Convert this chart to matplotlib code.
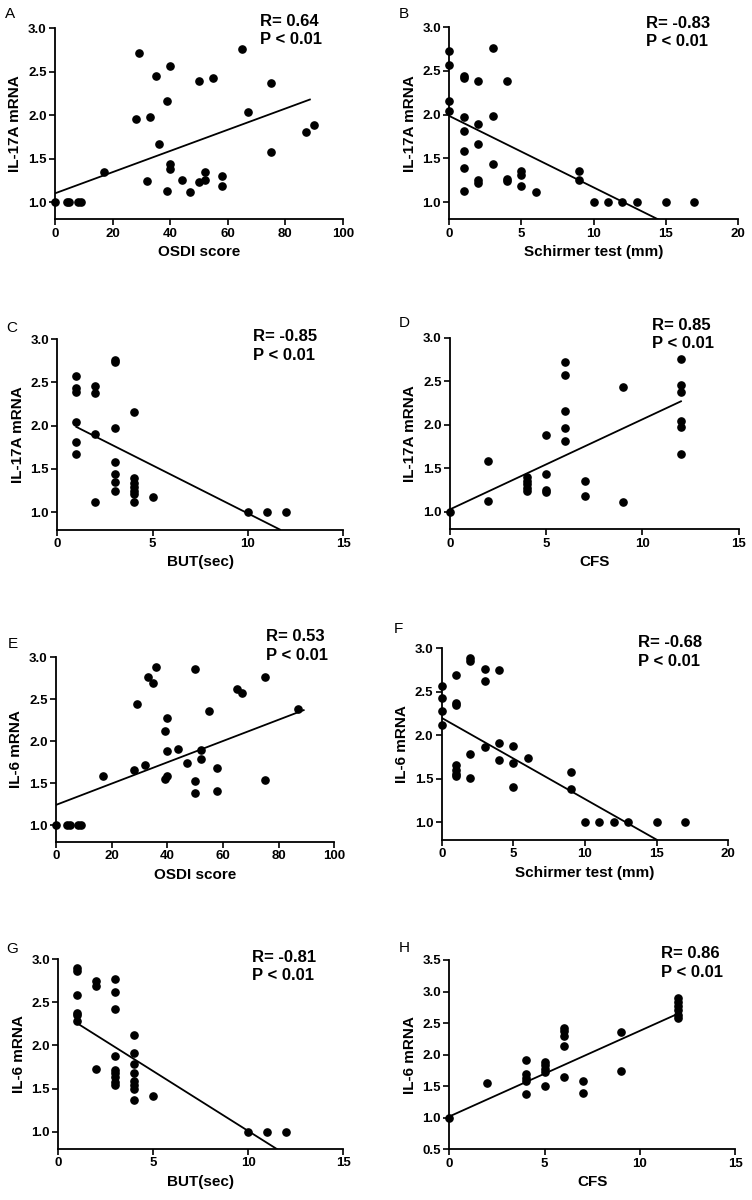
import matplotlib
matplotlib.use("Agg")
import matplotlib.pyplot as plt
import numpy as np

plt.rcParams['font.family'] = ['Liberation Sans', 'DejaVu Sans']

W, H = 752, 1200

# ---- data ----
# A: IL-17A vs OSDI
a_x = [0, 4, 5, 8, 9, 17, 29, 28, 33, 35, 40, 39, 36, 32, 40, 40, 39, 44, 47, 50,
       55, 50, 52, 52, 58, 58, 65, 67, 75, 75, 87, 90]
a_y = [1, 1, 1, 1, 1, 1.35, 2.72, 1.96, 1.98, 2.45, 2.57, 2.16, 1.67, 1.24, 1.44, 1.38,
       1.13, 1.25, 1.12, 2.39, 2.43, 1.23, 1.25, 1.35, 1.30, 1.18, 2.76, 2.04, 2.37, 1.58,
       1.81, 1.89]
a_fit_x = [0, 88.5]
a_fit_y = [1.10, 2.18]

# B: IL-17A vs Schirmer
b_x = [0, 0, 0, 0, 1, 1, 1, 1, 1, 1, 1, 2, 2, 2, 2, 2, 3, 3, 3, 4, 4, 4, 5, 5, 5, 6,
       9, 9, 10, 11, 12, 13, 15, 17]
b_y = [2.73, 2.57, 2.16, 2.04, 2.44, 2.42, 1.97, 1.81, 1.58, 1.39, 1.13, 2.39, 1.89,
       1.66, 1.25, 1.22, 2.76, 1.98, 1.44, 2.38, 1.26, 1.24, 1.35, 1.31, 1.18, 1.11,
       1.35, 1.25, 1, 1, 1, 1, 1, 1]
b_fit_x = [0, 14.5]
b_fit_y = [1.985, 0.80]

# C: IL-17A vs BUT
c_x = [1, 1, 1, 1, 1, 1, 2, 2, 2, 2, 3, 3, 3, 3, 3, 3, 3, 4, 4, 4, 4, 4, 4, 4, 5,
       10, 11, 12]
c_y = [2.57, 2.43, 2.39, 2.04, 1.81, 1.67, 2.46, 2.38, 1.90, 1.12, 2.76, 2.73, 1.97,
       1.58, 1.44, 1.35, 1.24, 2.16, 1.39, 1.34, 1.29, 1.25, 1.21, 1.12, 1.18, 1, 1, 1]
c_fit_x = [1, 11.68]
c_fit_y = [1.985, 0.80]

# D: IL-17A vs CFS
d_x = [0, 2, 2, 4, 4, 4, 4, 4, 5, 5, 5, 5, 6, 6, 6, 6, 6, 7, 7, 9, 9,
       12, 12, 12, 12, 12, 12]
d_y = [1.0, 1.58, 1.13, 1.40, 1.36, 1.32, 1.28, 1.24, 1.88, 1.44, 1.25, 1.23,
       2.72, 2.57, 2.16, 1.96, 1.81, 1.35, 1.18, 2.43, 1.11,
       2.76, 2.46, 2.38, 2.04, 1.97, 1.67]
d_fit_x = [0, 12]
d_fit_y = [1.03, 2.27]

# E: IL-6 vs OSDI
e_x = [0, 4, 5, 8, 9, 17, 28, 29, 32, 33, 35, 36, 39, 39, 40, 40, 40, 44, 47, 50,
       50, 50, 52, 52, 55, 58, 58, 65, 67, 75, 75, 87]
e_y = [1, 1, 1, 1, 1, 1.58, 1.66, 2.44, 1.72, 2.77, 2.69, 2.89, 2.12, 1.55, 2.28, 1.88,
       1.59, 1.91, 1.74, 2.86, 1.52, 1.38, 1.89, 1.79, 2.36, 1.68, 1.41, 2.62, 2.58, 2.76,
       1.54, 2.38]
e_fit_x = [0, 89]
e_fit_y = [1.24, 2.37]

# F: IL-6 vs Schirmer
f_x = [0, 0, 0, 0, 1, 1, 1, 1, 1, 1, 1, 2, 2, 2, 2, 3, 3, 3, 4, 4, 4, 5, 5, 5, 6,
       9, 9, 10, 11, 12, 13, 15, 17]
f_y = [2.57, 2.43, 2.28, 2.12, 2.69, 2.37, 2.35, 1.66, 1.60, 1.56, 1.53, 2.89, 2.85,
       1.79, 1.51, 2.76, 2.62, 1.87, 2.75, 1.91, 1.72, 1.88, 1.68, 1.41, 1.74,
       1.58, 1.38, 1, 1, 1, 1, 1, 1]
f_fit_x = [0, 15]
f_fit_y = [2.20, 0.80]

# G: IL-6 vs BUT
g_x = [1, 1, 1, 1, 1, 1, 2, 2, 2, 3, 3, 3, 3, 3, 3, 3, 3, 3, 4, 4, 4, 4, 4, 4, 4, 4,
       5, 10, 11, 12]
g_y = [2.89, 2.86, 2.58, 2.38, 2.35, 2.28, 2.75, 2.69, 1.73, 2.77, 2.62, 2.42, 1.88,
       1.72, 1.68, 1.63, 1.58, 1.54, 2.12, 1.91, 1.78, 1.68, 1.59, 1.54, 1.50, 1.37,
       1.41, 1, 1, 1]
g_fit_x = [1, 11.5]
g_fit_y = [2.255, 0.80]

# H: IL-6 vs CFS
h_x = [0, 2, 4, 4, 4, 4, 4, 5, 5, 5, 5, 5, 6, 6, 6, 6, 6, 7, 7, 9, 9,
       12, 12, 12, 12, 12, 12]
h_y = [1.0, 1.55, 1.91, 1.69, 1.63, 1.58, 1.38, 1.89, 1.83, 1.77, 1.72, 1.51,
       2.43, 2.38, 2.30, 2.13, 1.65, 1.58, 1.40, 2.36, 1.74,
       2.89, 2.84, 2.77, 2.70, 2.63, 2.58]
h_fit_x = [0, 12]
h_fit_y = [1.02, 2.65]

r_values = ["0.64", "-0.83", "-0.85", "0.85", "0.53", "-0.68", "-0.81", "0.86"]
x_labels = ["OSDI score", "Schirmer test (mm)", "BUT(sec)", "CFS",
            "OSDI score", "Schirmer test (mm)", "BUT(sec)", "CFS"]
y_labels = ["IL-17A mRNA"] * 4 + ["IL-6 mRNA"] * 4
letters = list("ABCDEFGH")

# ---- layout (pixels): left, right, y-top, y-bottom, ylim, xmax, xstep ----
boxes = [
    (55, 343, 28.3, 219.4, (0.8, 3.0), 100, 20),
    (449.3, 737.7, 27.3, 219.5, (0.8, 3.0), 20, 5),
    (57.3, 343.3, 339, 529.6, (0.8, 3.0), 15, 5),
    (450, 738.7, 337.7, 529.4, (0.8, 3.0), 15, 5),
    (56, 334.3, 657.3, 841.8, (0.8, 3.0), 100, 20),
    (441.7, 728.3, 648.3, 839.7, (0.8, 3.0), 20, 5),
    (58.3, 343.3, 959, 1149, (0.8, 3.0), 15, 5),
    (449.3, 735.3, 960, 1149.3, (0.5, 3.5), 15, 5),
]
# letter (x, baseline), R text (x, baseline)
letter_pos = [(5, 18.3), (398.7, 18.3), (6.7, 331.7), (398.7, 327.3),
              (7.3, 648.3), (393.3, 633.3), (6, 953.3), (398.7, 951.7)]
stat_pos = [(260, 26), (646, 28), (253, 341), (652, 330),
            (266, 641), (637.7, 647), (252.3, 962), (661, 958.5)]

xs = [a_x, b_x, c_x, d_x, e_x, f_x, g_x, h_x]
ys = [a_y, b_y, c_y, d_y, e_y, f_y, g_y, h_y]
fxs = [a_fit_x, b_fit_x, c_fit_x, d_fit_x, e_fit_x, f_fit_x, g_fit_x, h_fit_x]
fys = [a_fit_y, b_fit_y, c_fit_y, d_fit_y, e_fit_y, f_fit_y, g_fit_y, h_fit_y]

fig = plt.figure(figsize=(W / 100, H / 100), dpi=100)

for i in range(8):
    l, r, t, b, ylim, xmax, xstep = boxes[i]
    ax = fig.add_axes([l / W, 1 - b / H, (r - l) / W, (b - t) / H])
    ax.plot(fxs[i], fys[i], color='black', lw=1.3, zorder=2)
    ax.plot(xs[i], ys[i], 'o', color='black', ms=5.2, clip_on=False, zorder=4)
    ax.set_xlim(0, xmax)
    ax.set_ylim(*ylim)
    ax.set_xticks(np.arange(0, xmax + 0.1, xstep))
    ax.set_yticks(np.arange(ylim[0] if ylim[0] == 0.5 else 1.0, 3.01 if ylim[1] == 3.0 else 3.51, 0.5))
    ax.yaxis.set_major_formatter(matplotlib.ticker.FormatStrFormatter('%.1f'))
    for s in ['top', 'right']:
        ax.spines[s].set_visible(False)
    for s in ['left', 'bottom']:
        ax.spines[s].set_linewidth(1.3)
    ax.tick_params(direction='out', length=4, width=1.2, labelsize=9.5, pad=2)
    for lab in ax.get_xticklabels() + ax.get_yticklabels():
        lab.set_fontweight('bold')
    ax.set_xlabel(x_labels[i], fontsize=11, fontweight='bold', labelpad=4)
    ax.set_ylabel(y_labels[i], fontsize=11, fontweight='bold', labelpad=4)

    lx, ly = letter_pos[i]
    fig.text(lx / W, 1 - ly / H, letters[i], fontsize=11, ha='left', va='baseline')
    sx, sy = stat_pos[i]
    fig.text(sx / W, 1 - sy / H, "R= " + r_values[i], fontsize=12, fontweight='bold',
             ha='left', va='baseline')
    fig.text(sx / W, 1 - (sy + 18.5) / H, "P < 0.01", fontsize=12, fontweight='bold',
             ha='left', va='baseline')

fig.savefig("out.png", dpi=100)
